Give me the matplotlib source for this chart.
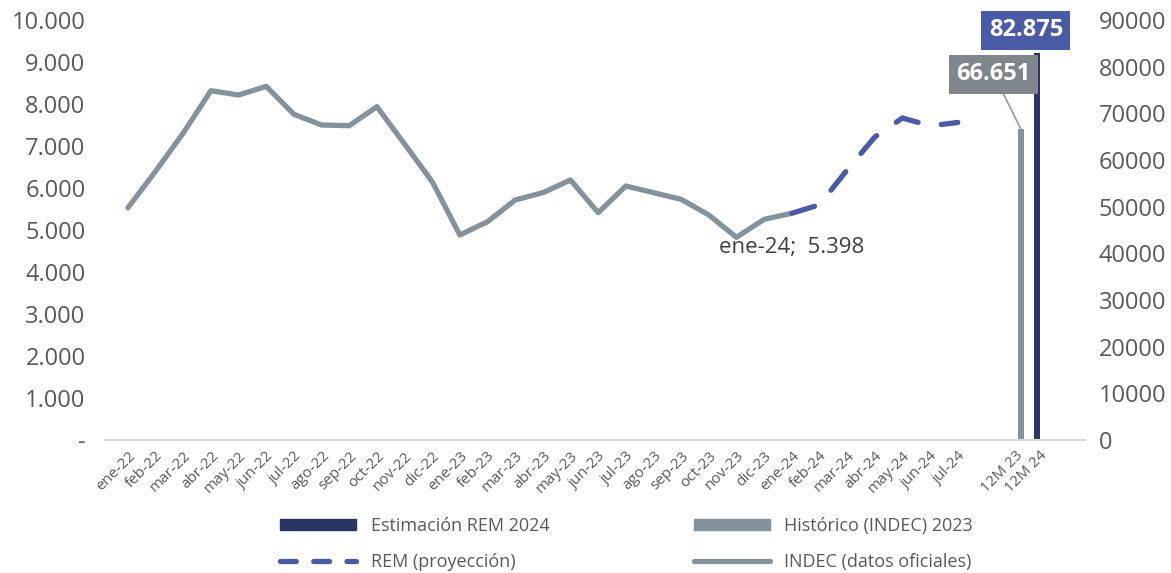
import numpy as np
import matplotlib.pyplot as plt
from matplotlib.patches import Patch
from matplotlib.lines import Line2D

plt.rcParams['font.family'] = ['Open Sans', 'DejaVu Sans']

# monthly categories
months = ['ene-22', 'feb-22', 'mar-22', 'abr-22', 'may-22', 'jun-22', 'jul-22', 'ago-22',
          'sep-22', 'oct-22', 'nov-22', 'dic-22', 'ene-23', 'feb-23', 'mar-23', 'abr-23',
          'may-23', 'jun-23', 'jul-23', 'ago-23', 'sep-23', 'oct-23', 'nov-23', 'dic-23',
          'ene-24', 'feb-24', 'mar-24', 'abr-24', 'may-24', 'jun-24', 'jul-24']

# INDEC official data (ene-22 .. ene-24)
indec = [5530, 6400, 7310, 8317, 8214, 8420, 7755, 7500, 7483, 7936, 7048, 6150,
         4881, 5198, 5714, 5889, 6190, 5413, 6048, 5889, 5730, 5357, 4826, 5254, 5398]

# REM projection (ene-24 .. jul-24)
rem = [5398, 5600, 6430, 7214, 7667, 7480, 7560]

# 12-month totals (right axis)
bar_labels = ['12M 23', '12M 24']
bar_values = [66651, 82875]

c_gray = '#84929b'
c_navy = '#2b3563'
c_blue = '#4a5ba6'
c_text = '#595959'

fig = plt.figure(figsize=(11.71, 5.73), dpi=100)
ax = fig.add_axes([105 / 1171, 133 / 573, 980 / 1171, 420 / 573])
ax2 = ax.twinx()

x_ind = np.arange(len(indec))
x_rem = np.arange(len(indec) - 1, len(indec) - 1 + len(rem))
x_bars = len(months) + np.array([1.28, 1.86])

ax.plot(x_ind, indec, color=c_gray, lw=3.8, solid_capstyle='round', solid_joinstyle='round', zorder=3)
ax.plot(x_rem, rem, color=c_blue, lw=3.8, dashes=(4.5, 4.5), dash_capstyle='round', zorder=3)

ax2.bar(x_bars[0], bar_values[0], width=0.2, color=c_gray, zorder=2)
ax2.bar(x_bars[1], bar_values[1], width=0.2, color=c_navy, zorder=2)

ax.set_xlim(-0.83, 34.6)
ax.set_ylim(0, 10000)
ax2.set_ylim(0, 90000)

ax.set_yticks(np.arange(0, 10001, 1000))
ax.set_yticklabels(['-'] + [f'{v:,}'.replace(',', '.') for v in range(1000, 10001, 1000)])
ax2.set_yticks(np.arange(0, 90001, 10000))
ax.tick_params(axis='y', length=0, pad=14, labelsize=17, labelcolor=c_text)
ax2.tick_params(axis='y', length=0, pad=10, labelsize=17, labelcolor=c_text)

ax.set_xticks(list(np.arange(len(months))) + list(x_bars + np.array([-0.2, 0.1])))
ax.set_xticklabels(months + bar_labels, rotation=45, ha='right', rotation_mode='anchor')
ax.tick_params(axis='x', length=0, pad=6, labelsize=11, labelcolor=c_text)

for a in (ax, ax2):
    for s in ['top', 'left', 'right']:
        a.spines[s].set_visible(False)
    a.spines['bottom'].set_color('#d9d9d9')
    a.spines['bottom'].set_linewidth(1.5)

# annotation on last official value
ax.text(len(indec) - 1, indec[-1] - 560, f"{months[len(indec) - 1]};  {indec[-1]:,}".replace(',', '.'),
        ha='center', va='top', fontsize=16, color='#404040')

# value boxes for the bars
ax2.annotate(f'{bar_values[0]:,}'.replace(',', '.'), xy=(x_bars[0], bar_values[0]),
             xytext=(x_bars[0] - 0.98, 78400), ha='center', va='center',
             fontsize=17, fontweight='bold', color='white',
             bbox=dict(boxstyle='square,pad=0.32', fc='#80868d', ec='none'),
             arrowprops=dict(arrowstyle='-', color='#9a9a9a', lw=1.2, shrinkA=0, shrinkB=0), zorder=5)
ax2.text(x_bars[1] - 0.4, 87800, f'{bar_values[1]:,}'.replace(',', '.'), ha='center', va='center',
         fontsize=17, fontweight='bold', color='white',
         bbox=dict(boxstyle='square,pad=0.32', fc=c_blue, ec='none'), zorder=5)

handles = [Patch(color=c_navy, label='Estimación REM 2024'),
           Line2D([], [], color=c_blue, lw=3.8, dashes=(3, 3.3), dash_capstyle='round', label='REM (proyección)'),
           Patch(color=c_gray, label='Histórico (INDEC) 2023'),
           Line2D([], [], color=c_gray, lw=3.8, solid_capstyle='round', label='INDEC (datos oficiales)')]
fig.legend(handles=handles, ncol=2, loc='lower center', bbox_to_anchor=(0.535, -0.025),
           frameon=False, fontsize=13, labelcolor=c_text, handlelength=4.2, handleheight=0.6,
           columnspacing=8, labelspacing=1.0)

fig.savefig('out.png', dpi=100)
